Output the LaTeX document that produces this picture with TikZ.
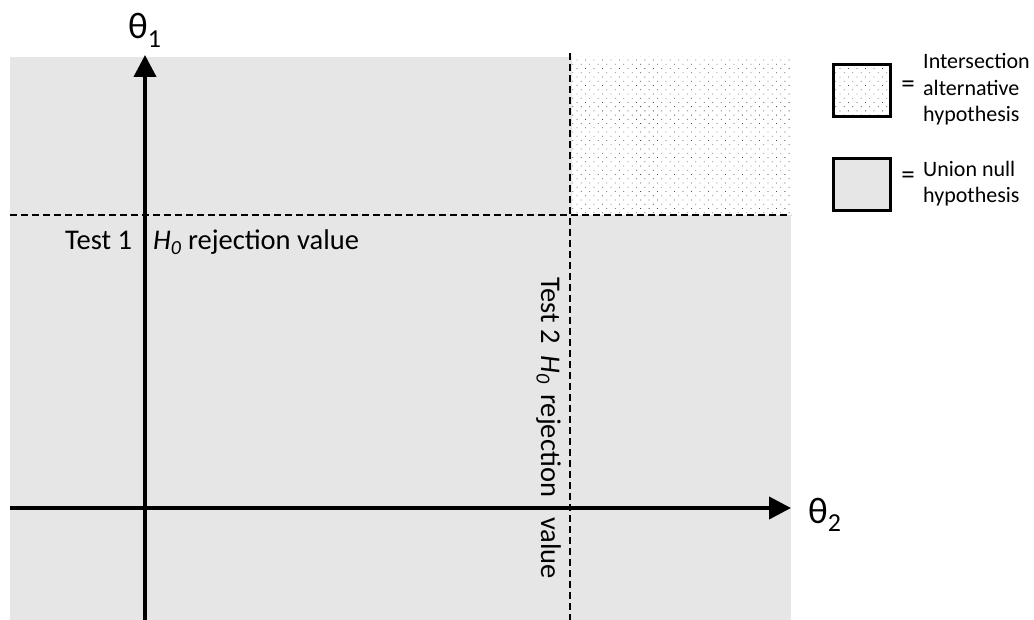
\documentclass[tikz,border=0pt]{standalone}
\usepackage{fontspec}
\setmainfont{Carlito}
\usetikzlibrary{arrows.meta,patterns.meta}
\definecolor{nullgray}{HTML}{E6E6E6}
\begin{document}
\begin{tikzpicture}[x=1pt,y=-1pt,
  axis/.style={line width=4pt,-{Triangle[length=22pt,width=22pt]}},
  thr/.style={line width=2pt,dash pattern=on 7pt off 4pt},
  dotfill/.style={pattern={Dots[distance=6pt,radius=0.55pt,angle=45]},pattern color=black!70},
  legbox/.style={draw,line width=3pt,minimum width=57pt,minimum height=52pt,inner sep=0pt},
  lbl/.style={font=\fontsize{28.5}{35}\selectfont,inner sep=0pt},
  leg/.style={font=\fontsize{22}{26.5}\selectfont,inner sep=0pt,align=left},
  eqs/.style={font=\fontsize{27}{30}\selectfont,inner sep=0pt},
  axlbl/.style={font=\fontsize{37}{44}\selectfont,inner sep=0pt}]
\useasboundingbox (0,0) rectangle (1034,620);
% regions
\fill[nullgray] (10,57) rectangle (791,620);
\fill[white] (572,57) rectangle (791,215);
\fill[dotfill] (572,57) rectangle (791,215);
% rejection thresholds
\coordinate (h1w) at (10,215);
\coordinate (h1e) at (791,215);
\coordinate (v2n) at (570,53);
\coordinate (v2s) at (570,620);
\draw[thr] (h1w) -- (h1e);
\draw[thr] (v2n) -- (v2s);
% labels
\node[lbl,anchor=base west] (t1) at (65,250) {Test 1};
\node[lbl,anchor=base west] (t1b) at (153,250) {\textit{H\textsubscript{0}} rejection value};
\node[lbl,anchor=base west,rotate=-90] (t2) at (541,277) {Test 2\hspace{12pt}\textit{H\textsubscript{0}}\hspace{10pt}rejection\hspace{20pt}value};
% axes
\coordinate (xs) at (10,508);
\coordinate (xe) at (791,508);
\coordinate (ys) at (145,620);
\coordinate (ye) at (145,55);
\draw[axis] (xs) -- (xe);
\draw[axis] (ys) -- (ye);
\node[axlbl,anchor=base west] (th1) at (128,39) {θ\textsubscript{1}};
\node[axlbl,anchor=base west] (th2) at (808,523) {θ\textsubscript{2}};
% legend
\node[legbox,dotfill] (lb1) at (862,90.5) {};
\node[legbox,fill=nullgray] (lb2) at (862,184.5) {};
\node[eqs,anchor=center] (eq1) at (908,87) {=};
\node[eqs,anchor=center] (eq2) at (908,178) {=};
\node[leg,anchor=base west] (lt1) at (923,122) {Intersection\\alternative\\hypothesis};
\node[leg,anchor=base west] (lt2) at (923,203) {Union null\\hypothesis};
\end{tikzpicture}
\end{document}
